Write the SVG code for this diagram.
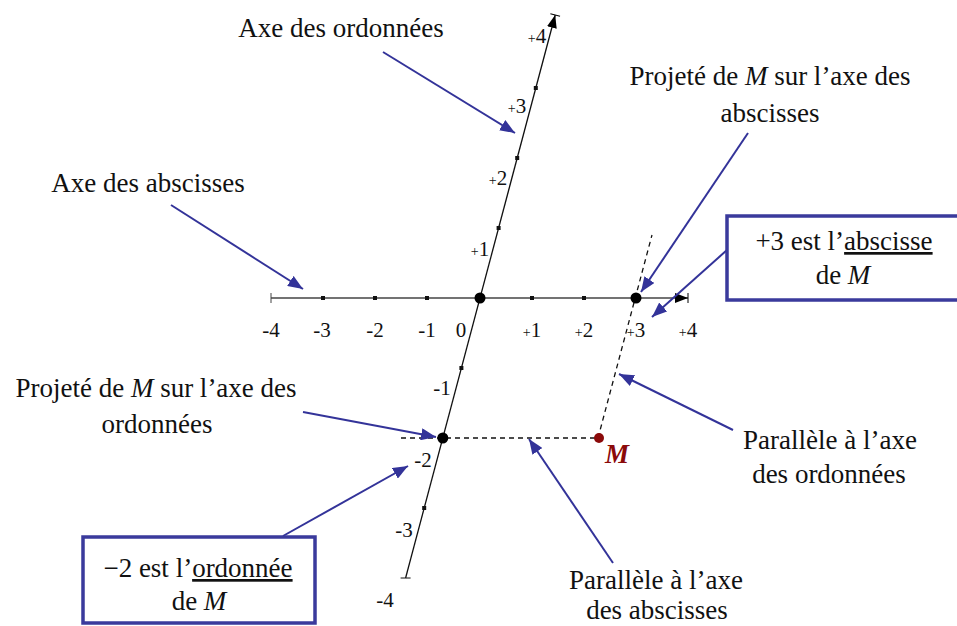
<svg xmlns="http://www.w3.org/2000/svg" width="957" height="626" viewBox="0 0 957 626">
<defs>
<style>
text{font-family:'Liberation Serif','DejaVu Serif','Noto Serif','Times New Roman',Times,serif;fill:#111}
.lbl{font-size:27px;text-anchor:middle}
.num{font-size:21px;text-anchor:middle}
.pl{font-size:14px}
.conn{stroke:#333399;stroke-width:2;fill:none;marker-end:url(#ah)}
.box{fill:#fff;stroke:#3a3a9c;stroke-width:3.5}
.dash{stroke:#111;stroke-width:1.3;stroke-dasharray:5 4;fill:none}
.tick{fill:#111}
.ul{text-decoration:underline}
</style>
<marker id="ah" markerUnits="userSpaceOnUse" markerWidth="16" markerHeight="12" refX="15" refY="6" orient="auto">
<path d="M0,0 L15,6 L0,12 z" fill="#333399"/>
</marker>
<marker id="ax" markerUnits="userSpaceOnUse" markerWidth="14" markerHeight="12" refX="13" refY="6" orient="auto">
<path d="M0,1 L13,6 L0,11 z" fill="#000"/>
<path d="M13,1 L13,11" stroke="#000" stroke-width="1"/>
</marker>
</defs>
<rect width="957" height="626" fill="#fff"/>

<g id="axes">
<line x1="271" y1="298" x2="688" y2="298" stroke="#444" stroke-width="1.5" marker-end="url(#ax)"/>
<line x1="271" y1="293" x2="271" y2="303" stroke="#444" stroke-width="1"/>
<line x1="405.6" y1="578" x2="555.2" y2="15" stroke="#111" stroke-width="1.3" marker-end="url(#ax)"/>
<line x1="400.6" y1="578" x2="410.6" y2="578" stroke="#111" stroke-width="1"/>
<g class="tick">
<rect x="321" y="296" width="4" height="4"/>
<rect x="373" y="296" width="4" height="4"/>
<rect x="425" y="296" width="4" height="4"/>
<rect x="530" y="296" width="4" height="4"/>
<rect x="582" y="296" width="4" height="4"/>
<rect x="422.2" y="506" width="4" height="4"/>
<rect x="459.4" y="366" width="4" height="4"/>
<rect x="496.6" y="226" width="4" height="4"/>
<rect x="515.2" y="156" width="4" height="4"/>
<rect x="533.8" y="86" width="4" height="4"/>
</g>
<g class="num">
<text x="271" y="337">-4</text>
<text x="322" y="337">-3</text>
<text x="375" y="337">-2</text>
<text x="427" y="337">-1</text>
<text x="461" y="337">0</text>
<text x="532" y="337"><tspan class="pl">+</tspan>1</text>
<text x="584" y="337"><tspan class="pl">+</tspan>2</text>
<text x="636" y="337"><tspan class="pl">+</tspan>3</text>
<text x="688" y="337"><tspan class="pl">+</tspan>4</text>
<text x="537" y="43"><tspan class="pl">+</tspan>4</text>
<text x="517" y="113"><tspan class="pl">+</tspan>3</text>
<text x="498" y="185"><tspan class="pl">+</tspan>2</text>
<text x="480" y="256"><tspan class="pl">+</tspan>1</text>
<text x="442" y="395">-1</text>
<text x="423" y="467">-2</text>
<text x="404" y="537">-3</text>
<text x="385" y="607">-4</text>
</g>
</g>

<g id="construction">
<line class="dash" x1="401" y1="438" x2="598" y2="438"/>
<line class="dash" x1="598" y1="438" x2="652" y2="235"/>
<circle cx="480" cy="298" r="5.5" fill="#000"/>
<circle cx="636" cy="298" r="5.5" fill="#000"/>
<circle cx="442.8" cy="438" r="5.5" fill="#000"/>
<circle cx="599" cy="438" r="5" fill="#8b0a0a"/>
<text x="605" y="463" style="font-size:27px;font-weight:bold;font-style:italic;fill:#8b0a0a">M</text>
</g>

<g id="connectors">
<line class="conn" x1="383" y1="52" x2="515" y2="133"/>
<line class="conn" x1="171" y1="205" x2="303" y2="289"/>
<line class="conn" x1="748" y1="133" x2="641" y2="292"/>
<line class="conn" x1="727" y1="250" x2="652" y2="317"/>
<line class="conn" x1="733" y1="430" x2="619" y2="374"/>
<line class="conn" x1="303" y1="412" x2="436" y2="437"/>
<line class="conn" x1="283" y1="536" x2="408" y2="466"/>
<line class="conn" x1="613" y1="563" x2="529" y2="439"/>
</g>

<g id="label-axe-ordonnees">
<text class="lbl" x="341" y="37">Axe des ordonnées</text>
</g>
<g id="label-axe-abscisses">
<text class="lbl" x="148" y="192">Axe des abscisses</text>
</g>
<g id="label-projete-abscisses">
<text class="lbl" x="770" y="85">Projeté de <tspan font-style="italic">M</tspan> sur l’axe des</text>
<text class="lbl" x="770" y="122">abscisses</text>
</g>
<g id="label-projete-ordonnees">
<text class="lbl" x="156" y="397">Projeté de <tspan font-style="italic">M</tspan> sur l’axe des</text>
<text class="lbl" x="157" y="433">ordonnées</text>
</g>
<g id="label-parallele-ordonnees">
<text class="lbl" x="830" y="449">Parallèle à l’axe</text>
<text class="lbl" x="829" y="483">des ordonnées</text>
</g>
<g id="label-parallele-abscisses">
<text class="lbl" x="656" y="589">Parallèle à l’axe</text>
<text class="lbl" x="657" y="619">des abscisses</text>
</g>
<g id="box-abscisse">
<rect class="box" x="727" y="216" width="240" height="84"/>
<text class="lbl" x="844" y="250">+3 est l’<tspan class="ul">abscisse</tspan></text>
<text class="lbl" x="843" y="284">de <tspan font-style="italic">M</tspan></text>
</g>
<g id="box-ordonnee">
<rect class="box" x="83" y="537" width="232" height="86"/>
<text class="lbl" x="198" y="577">−2 est l’<tspan class="ul">ordonnée</tspan></text>
<text class="lbl" x="199" y="610">de <tspan font-style="italic">M</tspan></text>
</g>
</svg>
